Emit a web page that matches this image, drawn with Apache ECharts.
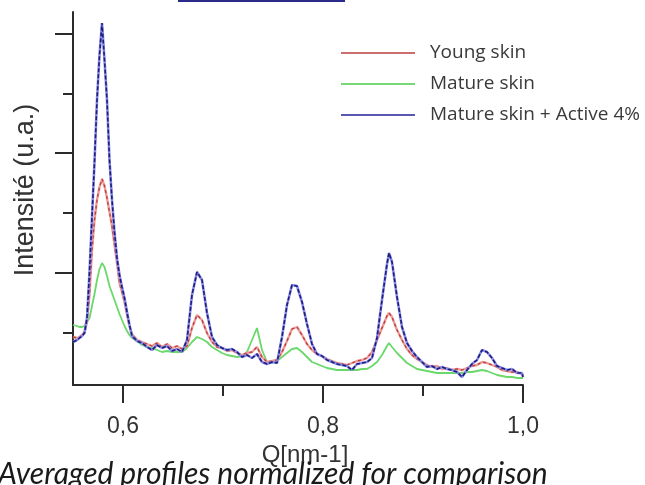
<!DOCTYPE html>
<html>
<head>
<meta charset="utf-8">
<script src="https://cdn.jsdelivr.net/npm/echarts@6/dist/echarts.min.js"></script>
<style>
  html, body { margin: 0; padding: 0; background: #ffffff; }
  #chart { width: 645px; height: 485px; }
</style>
</head>
<body>
<div id="chart"></div>
<script>
// Scattering vector Q (nm-1)
const Q = [
  0.550, 0.554, 0.5565, 0.559, 0.5615, 0.564, 0.5665, 0.569, 0.5715, 0.574, 0.5765, 0.579,
  0.5815, 0.584, 0.5865, 0.589, 0.5915, 0.594, 0.5965, 0.599, 0.6015, 0.604, 0.6065, 0.609,
  0.614, 0.619, 0.624, 0.629, 0.634, 0.639, 0.644, 0.649, 0.654, 0.659,
  0.664, 0.669, 0.674, 0.679, 0.684, 0.689, 0.694, 0.699, 0.704, 0.709,
  0.714, 0.719, 0.724, 0.729, 0.734, 0.739, 0.744, 0.749, 0.754, 0.759,
  0.764, 0.769, 0.774, 0.779, 0.784, 0.789, 0.794, 0.799, 0.804, 0.809,
  0.814, 0.819, 0.824, 0.829, 0.834, 0.839, 0.844, 0.849, 0.854, 0.859,
  0.864, 0.866, 0.869, 0.874, 0.879, 0.884, 0.889, 0.894, 0.899, 0.904,
  0.909, 0.914, 0.919, 0.924, 0.929, 0.934, 0.939, 0.944, 0.949, 0.954,
  0.959, 0.964, 0.969, 0.974, 0.979, 0.984, 0.989, 0.994, 0.999, 1.000
];

// Averaged, normalized intensity profiles (arbitrary units)
const youngSkin = [
  48, 47, 48, 50, 53, 63, 90, 135, 165, 185, 198, 206,
  199, 187, 173, 159, 140, 122, 102, 93, 83, 70, 59, 51,
  45, 43, 41, 39, 42, 38, 41, 37, 39, 36,
  39, 57, 70, 65, 52, 43, 38, 37, 34, 35,
  32, 30, 32, 33, 38, 28, 23, 24, 25, 33,
  44, 56, 58, 50, 41, 35, 31, 29, 26, 24,
  22, 21, 20, 22, 24, 25, 27, 33, 45, 57,
  69, 72, 68, 55, 45, 36, 30, 26, 23, 20,
  18, 19, 16, 17, 15, 16, 15, 17, 19, 20,
  23, 22, 20, 18, 15, 14, 13, 13, 11, 10
];

const matureSkin = [
  60, 59, 58, 58, 59, 63, 67, 79, 91, 105, 116, 122,
  118, 109, 99, 92, 85, 78, 71, 65, 59, 54, 50, 47,
  44, 40, 38, 37, 35, 33, 34, 33, 33, 33,
  37, 43, 48, 46, 43, 38, 35, 32, 30, 29,
  28, 29, 33, 45, 57, 35, 23, 22, 24, 28,
  32, 36, 37, 33, 28, 23, 21, 19, 17, 16,
  15, 15, 15, 15, 15, 16, 16, 19, 23, 30,
  39, 42, 38, 32, 27, 22, 19, 16, 15, 14,
  13, 12, 12, 12, 12, 12, 12, 13, 13, 14,
  15, 14, 12, 10, 9, 8, 8, 7, 7, 7
];

const matureSkinActive = [
  43, 45, 47, 49, 52, 67, 113, 168, 223, 285, 330, 362,
  325, 285, 225, 185, 153, 127, 110, 98, 87, 73, 60, 49,
  44, 42, 38, 35, 40, 37, 39, 34, 36, 33,
  45, 90, 113, 105, 72, 48, 40, 37, 35, 36,
  33, 28, 30, 27, 31, 23, 21, 23, 22, 48,
  80, 100, 99, 83, 61, 41, 31, 29, 25, 23,
  21, 20, 19, 15, 21, 22, 23, 27, 47, 85,
  121, 132, 123, 88, 58, 42, 34, 28, 23, 18,
  19, 16, 18, 16, 15, 13, 8, 15, 21, 25,
  35, 33, 27, 19, 17, 15, 16, 12, 12, 8
];

const seriesNames = ['Young skin', 'Mature skin', 'Mature skin + Active 4%'];

// Axis ticks
const xMajorTicks = [0.6, 0.8, 1.0];
const xMinorTicks = [0.7, 0.9];
const yMajorTicks = [112, 232, 351];
const yMinorTicks = [52, 172, 291];

const pairs = ys => Q.map((q, i) => [q, ys[i]]);

const AXIS_COLOR = '#2b2b2b';
const LABEL_FONT = '"Liberation Sans", Arial, sans-serif';

const chart = echarts.init(document.getElementById('chart'), null, { renderer: 'canvas' });

function lineSeries(name, data, color, width, type, z) {
  return {
    name: name,
    type: 'line',
    data: data,
    showSymbol: false,
    symbol: 'none',
    smooth: false,
    z: z,
    lineStyle: { color: color, width: width, type: type || 'solid' },
    itemStyle: { color: color },
    emphasis: { disabled: true }
  };
}

chart.setOption({
  animation: false,
  backgroundColor: '#ffffff',
  grid: { left: 73, right: 122, top: 12, bottom: 100, containLabel: false },
  legend: {
    orient: 'vertical',
    left: 336,
    top: 36,
    icon: 'rect',
    itemWidth: 74,
    itemHeight: 2,
    itemGap: 7,
    selectedMode: false,
    textStyle: {
      fontFamily: '"Open Sans", sans-serif',
      fontSize: 19,
      lineHeight: 24,
      color: '#3a3a3a',
      padding: [0, 0, 0, 10]
    },
    data: [
      { name: seriesNames[0], itemStyle: { color: '#cc6e6e' } },
      { name: seriesNames[1], itemStyle: { color: '#76d876' } },
      { name: seriesNames[2], itemStyle: { color: '#5858b0' } }
    ]
  },
  xAxis: [
    {
      type: 'value',
      min: 0.55,
      max: 1.0,
      position: 'bottom',
      name: 'Q[nm-1]',
      nameLocation: 'middle',
      nameGap: 44,
      nameTextStyle: { fontFamily: LABEL_FONT, fontSize: 24, color: '#333333', padding: [0, 0, 0, 14] },
      axisLine: { show: true, onZero: false, lineStyle: { color: AXIS_COLOR, width: 2 } },
      axisTick: { show: true, inside: false, length: 18, customValues: xMajorTicks, lineStyle: { color: AXIS_COLOR, width: 2 } },
      axisLabel: {
        show: true,
        customValues: xMajorTicks,
        margin: 30,
        fontFamily: LABEL_FONT,
        fontSize: 23,
        color: '#333333',
        formatter: v => v.toFixed(1).replace('.', ',')
      },
      splitLine: { show: false }
    },
    {
      type: 'value',
      min: 0.55,
      max: 1.0,
      position: 'bottom',
      offset: 0,
      axisLine: { show: false },
      axisTick: { show: true, inside: false, length: 11, customValues: xMinorTicks, lineStyle: { color: AXIS_COLOR, width: 2 } },
      axisLabel: { show: false },
      splitLine: { show: false }
    }
  ],
  yAxis: [
    {
      type: 'value',
      min: 0,
      max: 373,
      position: 'left',
      axisLine: { show: true, onZero: false, lineStyle: { color: AXIS_COLOR, width: 2 } },
      axisTick: { show: true, inside: false, length: 18, customValues: yMajorTicks, lineStyle: { color: AXIS_COLOR, width: 2 } },
      axisLabel: { show: false },
      splitLine: { show: false }
    },
    {
      type: 'value',
      min: 0,
      max: 373,
      position: 'left',
      offset: 0,
      axisLine: { show: false },
      axisTick: { show: true, inside: false, length: 10, customValues: yMinorTicks, lineStyle: { color: AXIS_COLOR, width: 2 } },
      axisLabel: { show: false },
      splitLine: { show: false }
    }
  ],
  series: [
    lineSeries(seriesNames[1], pairs(matureSkin), '#6ad86a', 1.8, 'solid', 2),
    lineSeries(seriesNames[0], pairs(youngSkin), '#eb9c98', 2.4, 'solid', 3),
    lineSeries(seriesNames[0], pairs(youngSkin), '#bf3b3b', 1.3, [3, 3], 4),
    lineSeries(seriesNames[2], pairs(matureSkinActive), '#8c8ce8', 2.6, 'solid', 5),
    lineSeries(seriesNames[2], pairs(matureSkinActive), '#1d1d7c', 1.6, [4, 2], 6)
  ],
  graphic: [
    {
      type: 'rect',
      shape: { x: 178, y: 0, width: 167, height: 2 },
      style: { fill: '#2a2a88' },
      silent: true
    },
    {
      // vertical axis title
      type: 'text',
      x: 26,
      y: 190,
      rotation: Math.PI / 2,
      style: {
        text: 'Intensité (u.a.)',
        font: '27px "Liberation Sans", Arial, sans-serif',
        fill: '#333333',
        align: 'center',
        verticalAlign: 'middle'
      },
      silent: true
    },
    {
      type: 'text',
      left: -2,
      top: 459,
      style: {
        text: 'Averaged profiles normalized for comparison',
        font: 'italic 30px Lato, "Open Sans", sans-serif',
        fill: '#1a1a1a'
      },
      silent: true
    }
  ]
});
</script>
</body>
</html>
